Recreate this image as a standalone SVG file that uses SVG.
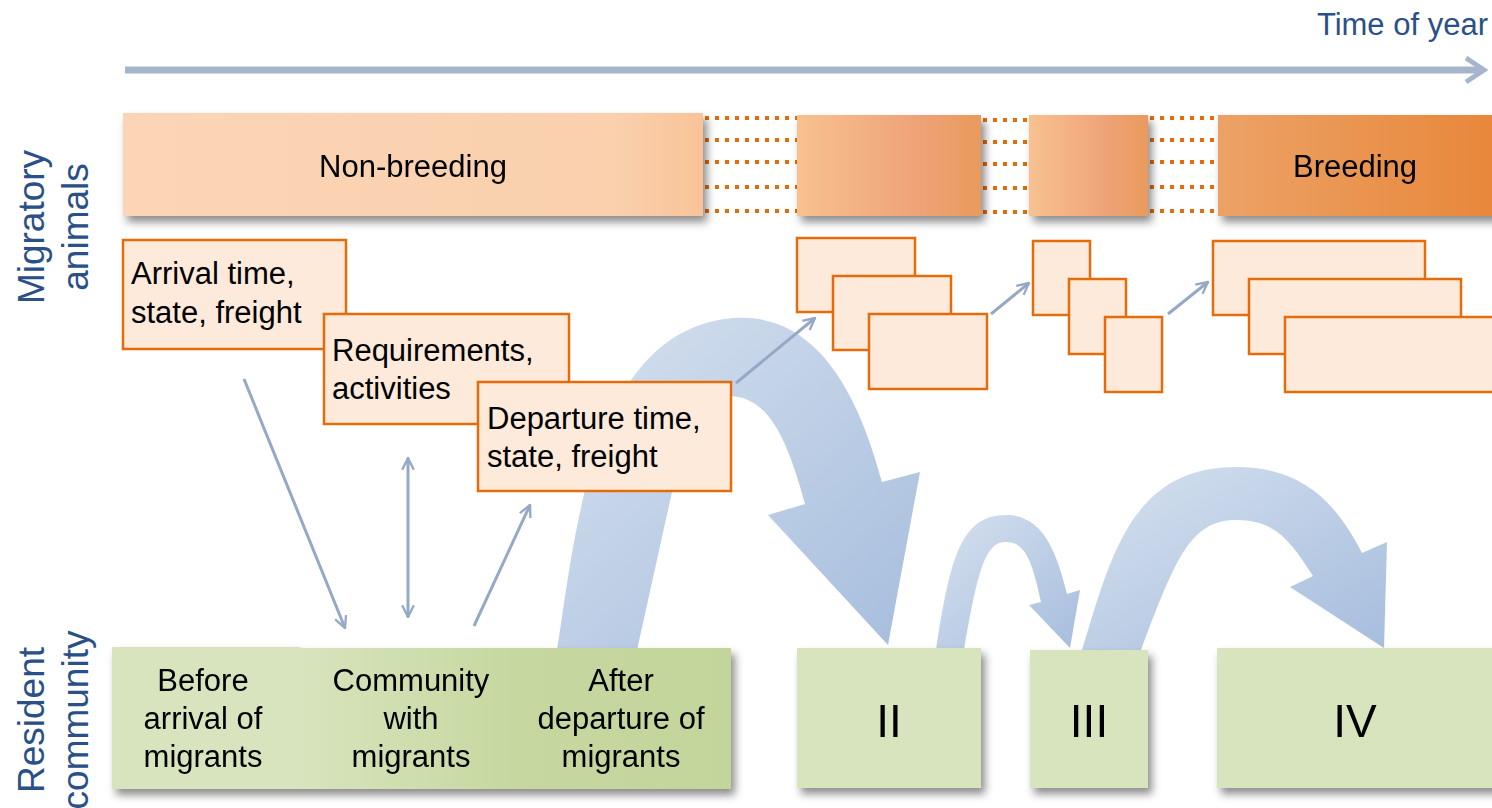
<svg xmlns="http://www.w3.org/2000/svg" width="1492" height="808" viewBox="0 0 1492 808">
<defs>
<style>
text{font-family:"Liberation Sans",Arial,sans-serif;fill:#000}
.lbl{font-size:31px}
.side{font-size:37px;fill:#2A5087}
.obox{fill:#FDEADA;stroke:#E46C0A;stroke-width:2.5}
.green{fill:#D7E4BD}
.dots{stroke:#E46C0A;stroke-width:4;stroke-dasharray:4 6;fill:none}
.thin{stroke:#95A9C6;stroke-width:3;fill:none}
.big{fill:url(#gBlue)}
</style>
<linearGradient id="gNon" x1="0" y1="0" x2="1" y2="0">
<stop offset="0" stop-color="#FBD5B6"/><stop offset="0.85" stop-color="#FAD0AD"/><stop offset="1" stop-color="#F9C398"/>
</linearGradient>
<linearGradient id="gMid" x1="0" y1="0" x2="1" y2="0">
<stop offset="0" stop-color="#F9C190"/><stop offset="0.65" stop-color="#EEA378"/><stop offset="1" stop-color="#EA9A5C"/>
</linearGradient>
<linearGradient id="gBreed" x1="0" y1="0" x2="1" y2="0">
<stop offset="0" stop-color="#ECA266"/><stop offset="1" stop-color="#E8873A"/>
</linearGradient>
<linearGradient id="gGreen" x1="0" y1="0" x2="1" y2="0">
<stop offset="0" stop-color="#D8E4BE"/><stop offset="0.5" stop-color="#C6D8A0"/><stop offset="1" stop-color="#C2D59A"/>
</linearGradient>
<linearGradient id="gBlue" x1="0" y1="0" x2="1" y2="1">
<stop offset="0" stop-color="#D6E1EF"/><stop offset="1" stop-color="#A6BDDD"/>
</linearGradient>
<filter id="sh" x="-10%" y="-10%" width="130%" height="140%">
<feDropShadow dx="4" dy="6" stdDeviation="4" flood-color="#000" flood-opacity="0.45"/>
</filter>
<marker id="ah" viewBox="0 0 12 12" refX="11" refY="6" markerWidth="14" markerHeight="14" markerUnits="userSpaceOnUse" orient="auto-start-reverse">
<path d="M1,1 L11,6 L1,11" fill="none" stroke="#95A9C6" stroke-width="2"/>
</marker>
</defs>
<rect width="1492" height="808" fill="#fff"/>

<g id="timeline">
<text x="1488" y="35" text-anchor="end" style="font-size:31px;fill:#2A5087">Time of year</text>
<line x1="125" y1="70" x2="1482" y2="70" stroke="#A5B5CC" stroke-width="7"/>
<polyline points="1466,58 1484,70 1466,82" fill="none" stroke="#A5B5CC" stroke-width="5"/>
</g>

<g id="side-labels">
<text class="side" transform="translate(44,227) rotate(-90)" text-anchor="middle">Migratory</text>
<text class="side" transform="translate(88,227) rotate(-90)" text-anchor="middle">animals</text>
<text class="side" transform="translate(44,720) rotate(-90)" text-anchor="middle">Resident</text>
<text class="side" transform="translate(88,720) rotate(-90)" text-anchor="middle">community</text>
</g>

<g id="dotted-links">
<path class="dots" d="M705,118H797M705,140H797M705,162H797M705,187H797M705,211H797"/>
<path class="dots" d="M983,120H1029M983,142H1029M983,164H1029M983,188H1029M983,212H1029"/>
<path class="dots" d="M1150,118H1218M1150,140H1218M1150,162H1218M1150,187H1218M1150,211H1218"/>
</g>

<g id="bar-nonbreeding" filter="url(#sh)">
<rect x="123" y="113" width="580" height="103" fill="url(#gNon)"/>
<text class="lbl" x="413" y="177" text-anchor="middle">Non-breeding</text>
</g>
<g id="bar-migration1" filter="url(#sh)">
<rect x="797" y="115" width="184" height="101" fill="url(#gMid)"/>
</g>
<g id="bar-migration2" filter="url(#sh)">
<rect x="1029" y="115" width="119" height="101" fill="url(#gMid)"/>
</g>
<g id="bar-breeding" filter="url(#sh)">
<rect x="1218" y="115" width="280" height="101" fill="url(#gBreed)"/>
<text class="lbl" x="1355" y="177" text-anchor="middle">Breeding</text>
</g>

<g id="connectors">
<path class="big" d="M557,650 C575,540 590,330 733,318 C820,312 860,400 882,482 L920,472 L888,645 L768,515 L805,504 C785,430 765,396 728,396 C695,397 685,440 672,492 L637,650 Z"/>
<path class="big" d="M936,650 C950,560 960,515 1006,515 C1040,515 1055,545 1067,594 L1080,590 L1070,648 L1029,605 L1041,602 C1032,560 1025,542 1006,542 C985,542 978,570 964,650 Z"/>
<path class="big" d="M1082,650 C1110,560 1130,467 1236,467 C1300,467 1335,500 1362,553 L1387,542 L1384,648 L1290,587 L1313,576 C1290,540 1275,520 1236,520 C1190,520 1175,560 1141,650 Z"/>
<line class="thin" x1="244" y1="379" x2="345" y2="628" marker-end="url(#ah)"/>
<line class="thin" x1="408" y1="458" x2="408" y2="617" marker-start="url(#ah)" marker-end="url(#ah)"/>
<line class="thin" x1="474" y1="626" x2="530" y2="505" marker-end="url(#ah)"/>
<line class="thin" x1="736" y1="383" x2="815" y2="318" marker-end="url(#ah)"/>
<line class="thin" x1="991" y1="314" x2="1029" y2="283" marker-end="url(#ah)"/>
<line class="thin" x1="1168" y1="314" x2="1208" y2="282" marker-end="url(#ah)"/>
</g>

<g id="box-arrival">
<rect class="obox" x="123" y="240" width="223" height="109"/>
<text class="lbl" x="131" y="284">Arrival time,</text>
<text class="lbl" x="131" y="323">state, freight</text>
</g>
<g id="box-requirements">
<rect class="obox" x="324" y="314" width="245" height="110"/>
<text class="lbl" x="332" y="361">Requirements,</text>
<text class="lbl" x="332" y="399">activities</text>
</g>
<g id="box-departure">
<rect class="obox" x="478" y="382" width="253" height="109"/>
<text class="lbl" x="487" y="429">Departure time,</text>
<text class="lbl" x="487" y="467">state, freight</text>
</g>

<g id="stack-1">
<rect class="obox" x="797" y="238" width="118" height="74"/>
<rect class="obox" x="833" y="276" width="118" height="74"/>
<rect class="obox" x="869" y="314" width="118" height="75"/>
</g>
<g id="stack-2">
<rect class="obox" x="1033" y="241" width="57" height="74"/>
<rect class="obox" x="1069" y="279" width="57" height="75"/>
<rect class="obox" x="1105" y="317" width="57" height="75"/>
</g>
<g id="stack-3">
<rect class="obox" x="1213" y="241" width="212" height="74"/>
<rect class="obox" x="1249" y="279" width="212" height="75"/>
<rect class="obox" x="1285" y="317" width="215" height="75"/>
</g>

<g id="community-I" filter="url(#sh)">
<rect x="295" y="648" width="436" height="141" fill="url(#gGreen)"/>
<rect x="112" y="647" width="188" height="142" fill="#D7E4BD"/>
<text class="lbl" text-anchor="middle"><tspan x="203" y="691">Before</tspan><tspan x="203" y="729">arrival of</tspan><tspan x="203" y="767">migrants</tspan></text>
<text class="lbl" text-anchor="middle"><tspan x="411" y="691">Community</tspan><tspan x="411" y="729">with</tspan><tspan x="411" y="767">migrants</tspan></text>
<text class="lbl" text-anchor="middle"><tspan x="621" y="691">After</tspan><tspan x="621" y="729">departure of</tspan><tspan x="621" y="767">migrants</tspan></text>
</g>
<g id="community-II" filter="url(#sh)">
<rect class="green" x="797" y="648" width="184" height="140"/>
<text x="889" y="737" text-anchor="middle" style="font-size:46px">II</text>
</g>
<g id="community-III" filter="url(#sh)">
<rect class="green" x="1030" y="650" width="118" height="138"/>
<text x="1089" y="737" text-anchor="middle" style="font-size:46px">III</text>
</g>
<g id="community-IV" filter="url(#sh)">
<rect class="green" x="1217" y="648" width="285" height="140"/>
<text x="1355" y="737" text-anchor="middle" style="font-size:46px">IV</text>
</g>
</svg>
